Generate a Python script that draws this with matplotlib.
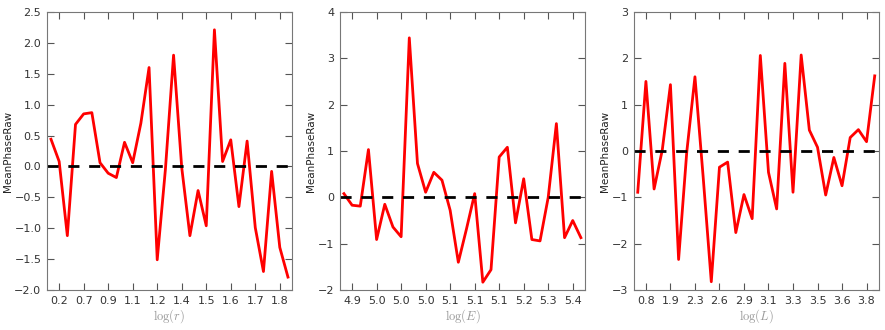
import numpy as np
import matplotlib
matplotlib.use('Agg')
import matplotlib.pyplot as plt

plt.rcParams['mathtext.fontset'] = 'cm'
plt.rcParams['font.family'] = 'DejaVu Sans'

# mean phase per bin
phase_r = [0.44, 0.08, -1.12, 0.68, 0.85, 0.87, 0.06, -0.11, -0.18, 0.39,
           0.06, 0.70, 1.60, -1.51, -0.05, 1.80, -0.02, -1.12, -0.39, -0.96,
           2.21, 0.08, 0.43, -0.65, 0.41, -0.99, -1.70, -0.08, -1.31, -1.79]
phase_E = [0.08, -0.17, -0.19, 1.03, -0.91, -0.15, -0.64, -0.85, 3.44, 0.73,
           0.11, 0.54, 0.37, -0.28, -1.40, -0.68, 0.08, -1.83, -1.56, 0.87,
           1.08, -0.55, 0.40, -0.91, -0.94, 0.00, 1.59, -0.87, -0.50, -0.87]
phase_L = [-0.89, 1.50, -0.82, 0.02, 1.43, -2.34, -0.02, 1.60, -0.55, -2.82,
           -0.35, -0.24, -1.76, -0.94, -1.46, 2.06, -0.46, -1.25, 1.89, -0.89,
           2.07, 0.45, 0.08, -0.95, -0.14, -0.75, 0.29, 0.46, 0.20, 1.62]

labels_r = ['0.2', '0.7', '0.9', '1.1', '1.2', '1.4', '1.5', '1.6', '1.7', '1.8']
labels_E = ['4.9', '5.0', '5.0', '5.0', '5.1', '5.1', '5.1', '5.2', '5.3', '5.4']
labels_L = ['0.8', '1.9', '2.3', '2.6', '2.9', '3.1', '3.3', '3.5', '3.6', '3.8']

panels = [
    (phase_r, labels_r, r'$\log(r)$', (-2.0, 2.5), np.arange(-2.0, 2.51, 0.5), '%.1f'),
    (phase_E, labels_E, r'$\log(E)$', (-2, 4), np.arange(-2, 5, 1), '%d'),
    (phase_L, labels_L, r'$\log(L)$', (-3, 3), np.arange(-3, 4, 1), '%d'),
]
lefts = [0.053, 0.384, 0.716]

fig = plt.figure(figsize=(8.85, 3.3), dpi=100)

for (vals, labs, xlab, ylim, yt, fmt), left in zip(panels, lefts):
    ax = fig.add_axes([left, 0.121, 0.277, 0.843])
    idx = np.arange(len(vals))
    ax.plot(idx, vals, color='red', lw=2)
    ax.axhline(0, color='black', lw=2, ls='--', dashes=(4, 3.5))
    ax.set_xlim(-0.5, len(vals) - 0.5)
    ax.set_ylim(*ylim)
    ax.set_xticks(idx[1::3])
    ax.set_xticklabels(labs)
    ax.set_yticks(yt)
    ax.set_yticklabels([(fmt % v).replace('-', '\u2212') for v in yt])
    ax.tick_params(direction='in', top=True, right=True, length=5,
                   width=0.8, color='#555555', labelsize=8,
                   labelcolor='#333333', pad=4)
    for sp in ax.spines.values():
        sp.set_color('#777777')
        sp.set_linewidth(0.8)
    ax.set_xlabel(xlab, color='#999999', fontsize=9, labelpad=1)
    ax.set_ylabel('MeanPhaseRaw', color='#222222', fontsize=7.5, labelpad=1)

fig.savefig('out.png', dpi=100)
